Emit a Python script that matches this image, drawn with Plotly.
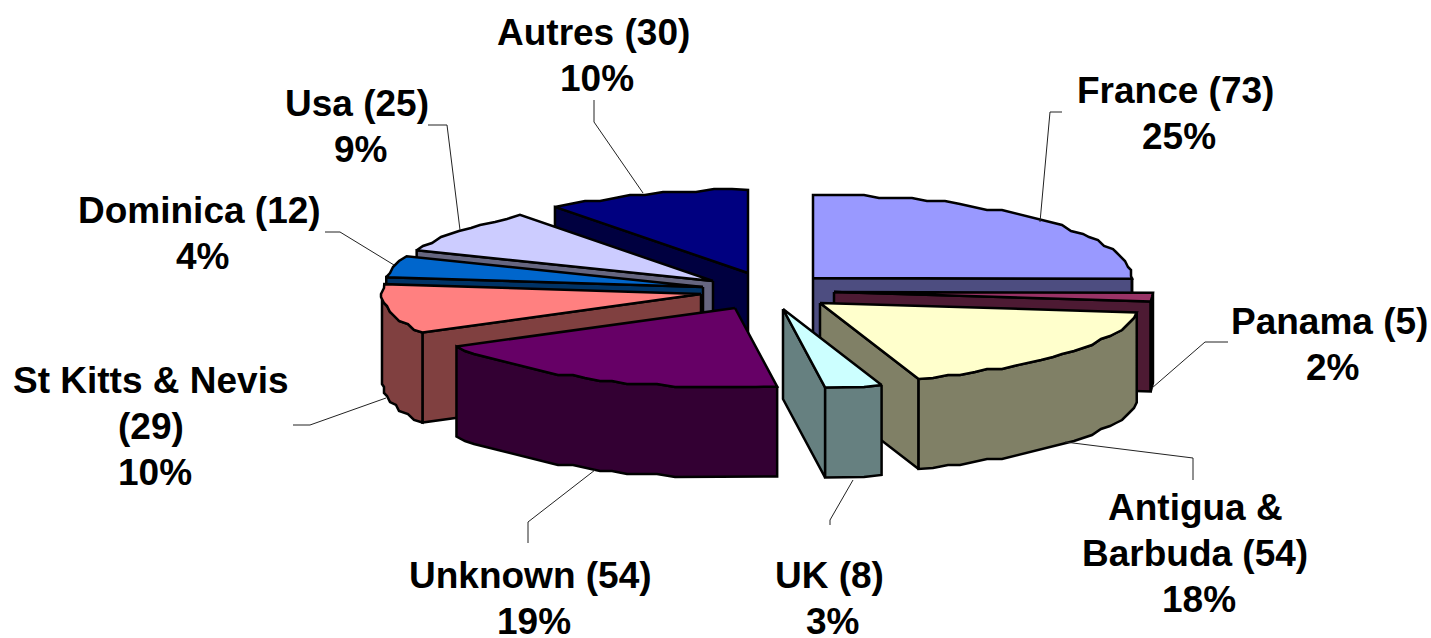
import math
import plotly.graph_objects as go

# ---- data ----
categories = ["France", "Panama", "Antigua &|Barbuda", "UK", "Unknown",
              "St Kitts & Nevis|", "Dominica", "Usa", "Autres"]
values = [73, 5, 54, 8, 54, 29, 12, 25, 30]
percents = [25, 2, 18, 3, 19, 10, 4, 9, 10]

# ---- explode offsets of each slice (apex position on the canvas) ----
apex_x = [813, 834, 820, 783, 735, 701, 703, 713, 748]
apex_y = [278, 292, 303, 309, 308, 294, 287, 281, 273]

# ---- style ----
top_colors = ["#9999FF", "#993366", "#FFFFCC", "#CCFFFF", "#660066",
              "#FF8080", "#0066CC", "#CCCCFF", "#000080"]
side_colors = ["#4D4D80", "#4D1A33", "#808066", "#668080", "#330033",
               "#804040", "#003366", "#666680", "#000040"]
draw_order = [8, 7, 6, 5, 0, 1, 2, 3, 4]
label_x = [1175, 1329, 1195, 829, 530, 151, 199, 357, 593]
label_y = [90, 321, 507, 575, 575, 380, 210, 103, 32]
leaders_x = [[1062, 1050, 1040], [1228, 1205, 1152], [1193, 1193, 1065],
             [830, 830, 853], [528, 528, 595], [293, 310, 386],
             [325, 340, 394], [428, 447, 460], [594, 594, 643]]
leaders_y = [[112, 112, 222], [342, 342, 388], [480, 458, 442],
             [525, 520, 480], [543, 522, 470], [425, 425, 398],
             [232, 232, 265], [125, 125, 230], [100, 122, 193]]
RX, RY_BACK, RY_FRONT, DEPTH = 319, 83, 79, 90
EDGE = 2.5
LINE_GAP = 46.2
FONT_SIZE = 37
GRID = 3.0
PERCENT_SHIFT = 3.5


def point(i, deg):
    t = math.radians(deg)
    c = math.cos(t)
    s = 1.0
    ry = RY_BACK
    if c < 0:
        s = 1 + 0.25 * (-c) ** 20
        ry = RY_FRONT
    return apex_x[i] + RX * s * math.sin(t), apex_y[i] - ry * c


def arc(i, a0, a1, step=3.0):
    n = max(1, int(abs(a1 - a0) / step))
    pts = [point(i, a0 + (a1 - a0) * k / n) for k in range(n + 1)]
    # the reference's arcs are stepped outlines, so snap the inner points to a coarse grid
    return [pts[0]] + [(round(x / GRID) * GRID, round(y / GRID) * GRID) for x, y in pts[1:-1]] + [pts[-1]]


total = sum(values)
starts = []
acc = 0
for v in values:
    starts.append(acc / total * 360)
    acc += v

fig = go.Figure()


def poly(pts, color):
    xs = [p[0] for p in pts] + [pts[0][0]]
    ys = [p[1] for p in pts] + [pts[0][1]]
    fig.add_trace(go.Scatter(x=xs, y=ys, mode="lines", fill="toself", fillcolor=color,
                             line=dict(color="black", width=EDGE), hoverinfo="skip",
                             showlegend=False))


for i in draw_order:
    a0 = starts[i]
    a1 = a0 + values[i] / total * 360
    ax, ay = apex_x[i], apex_y[i]
    if math.sin(math.radians(a0)) < 0:
        e = point(i, a0)
        poly([(ax, ay), e, (e[0], e[1] + DEPTH), (ax, ay + DEPTH)], side_colors[i])
    if math.sin(math.radians(a1)) > 0:
        e = point(i, a1)
        poly([(ax, ay), e, (e[0], e[1] + DEPTH), (ax, ay + DEPTH)], side_colors[i])
    lo, hi = max(a0, 90), min(a1, 270)
    if hi > lo:
        a = arc(i, lo, hi)
        poly(a + [(x, y + DEPTH) for x, y in reversed(a)], side_colors[i])
    poly([(ax, ay)] + arc(i, a0, a1), top_colors[i])

for lx, ly in zip(leaders_x, leaders_y):
    fig.add_trace(go.Scatter(x=lx, y=ly, mode="lines", line=dict(color="#222222", width=1),
                             hoverinfo="skip", showlegend=False))

for i, c in enumerate(categories):
    if c.endswith("|"):
        text = f"{c}({values[i]})|{percents[i]}%"
    else:
        text = f"{c} ({values[i]})|{percents[i]}%"
    lines = text.split("|")
    for k, line in enumerate(lines):
        shift = PERCENT_SHIFT if k == len(lines) - 1 else 0
        fig.add_annotation(x=label_x[i] + shift, y=label_y[i] + k * LINE_GAP, text=line, showarrow=False,
                           xanchor="center", yanchor="middle", align="center",
                           font=dict(family="Liberation Sans", size=FONT_SIZE, color="black", weight="bold"))

fig.update_layout(width=1431, height=638, autosize=False,
                  margin=dict(l=0, r=0, t=0, b=0, pad=0),
                  plot_bgcolor="white", paper_bgcolor="white", showlegend=False,
                  xaxis=dict(range=[0, 1431], visible=False, fixedrange=True),
                  yaxis=dict(range=[638, 0], visible=False, fixedrange=True))
fig.write_html("out.html", config={"displayModeBar": False},
               post_script="document.body.style.margin='0';document.body.style.overflow='hidden';")
